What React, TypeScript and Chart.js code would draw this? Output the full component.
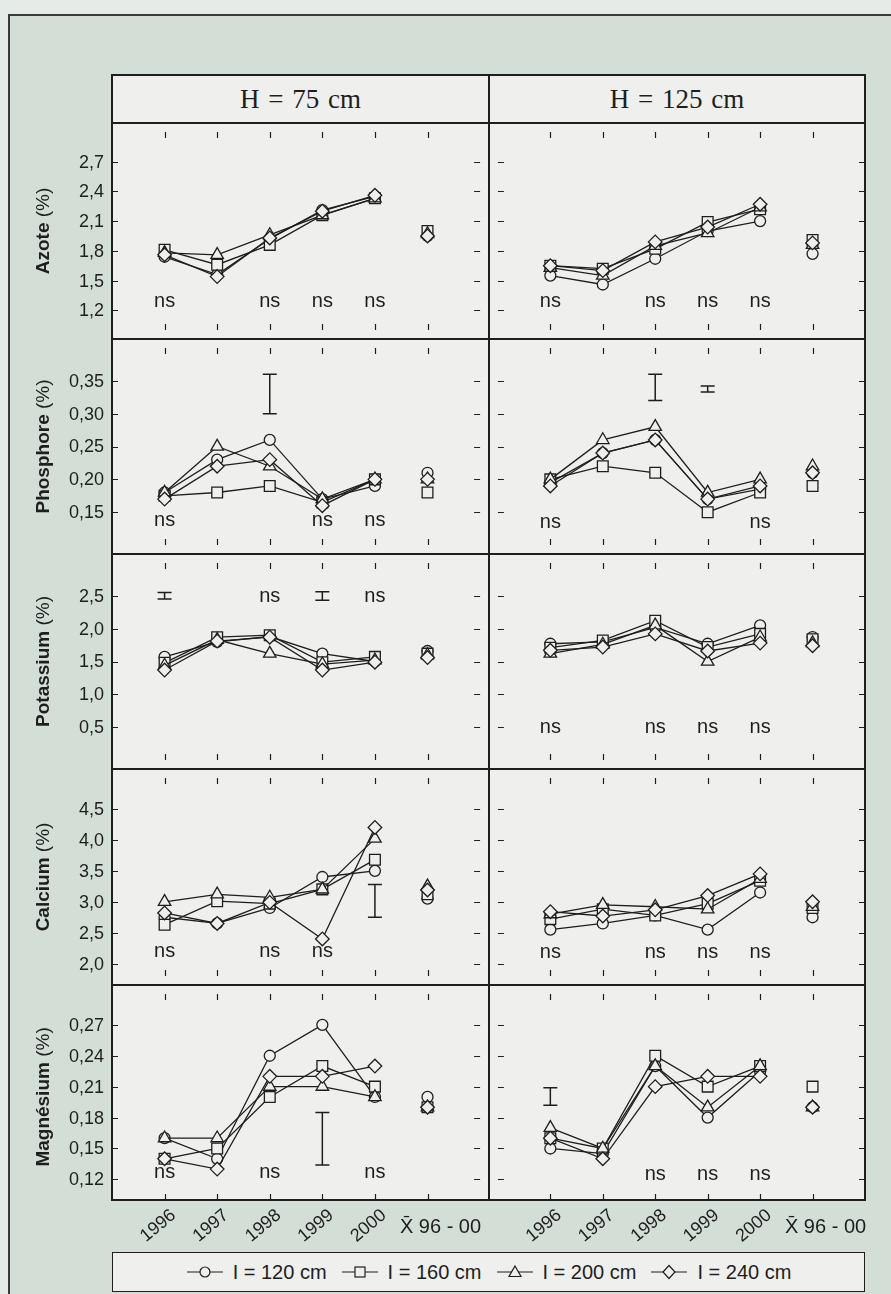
import React, { useEffect, useRef } from 'react';
import { Chart, registerables } from 'chart.js';
Chart.register(...registerables);

// ---------- DATA ----------
const CATEGORIES = ['1996', '1997', '1998', '1999', '2000', 'X\u0304 96 - 00'];
const SERIES_LABELS = ['I = 120 cm', 'I = 160 cm', 'I = 200 cm', 'I = 240 cm'];
const COLUMN_TITLES = ['H = 75 cm', 'H = 125 cm'];
const ROW_NAMES = ['Azote', 'Phosphore', 'Potassium', 'Calcium', 'Magnésium'];

// y ticks
const AZOTE_TICKS = [1.2, 1.5, 1.8, 2.1, 2.4, 2.7];
const PHOSPHORE_TICKS = [0.15, 0.2, 0.25, 0.3, 0.35];
const POTASSIUM_TICKS = [0.5, 1.0, 1.5, 2.0, 2.5];
const CALCIUM_TICKS = [2.0, 2.5, 3.0, 3.5, 4.0, 4.5];
const MAGNESIUM_TICKS = [0.12, 0.15, 0.18, 0.21, 0.24, 0.27];

// values: rows = I 120, 160, 200, 240 ; columns = 1996..2000, mean 96-00
const AZOTE_75 = [
  [1.74, 1.56, 1.92, 2.21, 2.35, 1.95],
  [1.81, 1.66, 1.86, 2.16, 2.33, 2.0],
  [1.78, 1.76, 1.96, 2.16, 2.33, 1.97],
  [1.76, 1.54, 1.93, 2.2, 2.36, 1.95],
];
const AZOTE_125 = [
  [1.55, 1.46, 1.72, 2.0, 2.1, 1.77],
  [1.65, 1.62, 1.82, 2.09, 2.22, 1.91],
  [1.63, 1.55, 1.85, 1.98, 2.24, 1.86],
  [1.65, 1.6, 1.89, 2.04, 2.27, 1.88],
];
const PHOSPHORE_75 = [
  [0.18, 0.23, 0.26, 0.17, 0.19, 0.21],
  [0.175, 0.18, 0.19, 0.165, 0.2, 0.18],
  [0.18, 0.25, 0.22, 0.17, 0.2, 0.2],
  [0.17, 0.22, 0.23, 0.16, 0.2, 0.2],
];
const PHOSPHORE_125 = [
  [0.195, 0.24, 0.26, 0.17, 0.185, 0.21],
  [0.2, 0.22, 0.21, 0.15, 0.18, 0.19],
  [0.2, 0.26, 0.28, 0.18, 0.2, 0.22],
  [0.19, 0.24, 0.26, 0.17, 0.19, 0.21],
];
const POTASSIUM_75 = [
  [1.57, 1.8, 1.88, 1.62, 1.5, 1.66],
  [1.48, 1.87, 1.9, 1.49, 1.57, 1.62],
  [1.44, 1.83, 1.62, 1.46, 1.52, 1.6],
  [1.37, 1.81, 1.87, 1.37, 1.49, 1.56],
];
const POTASSIUM_125 = [
  [1.77, 1.8, 2.02, 1.77, 2.05, 1.87],
  [1.71, 1.82, 2.12, 1.72, 1.92, 1.84],
  [1.62, 1.76, 2.05, 1.5, 1.87, 1.78],
  [1.67, 1.72, 1.92, 1.66, 1.78, 1.74],
];
const CALCIUM_75 = [
  [2.75, 2.65, 2.9, 3.4, 3.5, 3.05],
  [2.63, 3.01, 2.97, 3.2, 3.68, 3.12],
  [3.0, 3.12, 3.07, 3.2, 4.02, 3.25],
  [2.82, 2.65, 2.99, 2.4, 4.2, 3.19],
];
const CALCIUM_125 = [
  [2.55, 2.65, 2.78, 2.55, 3.15, 2.75],
  [2.72, 2.88, 2.78, 2.97, 3.34, 2.9],
  [2.8, 2.95, 2.92, 2.88, 3.37, 2.92],
  [2.84, 2.77, 2.87, 3.1, 3.45, 3.0],
];
const MAGNESIUM_75 = [
  [0.16, 0.14, 0.24, 0.27, 0.2, 0.2],
  [0.14, 0.15, 0.2, 0.23, 0.21, 0.19],
  [0.16, 0.16, 0.21, 0.21, 0.2, 0.19],
  [0.14, 0.13, 0.22, 0.22, 0.23, 0.19],
];
const MAGNESIUM_125 = [
  [0.15, 0.145, 0.23, 0.18, 0.225, 0.19],
  [0.16, 0.15, 0.24, 0.21, 0.23, 0.21],
  [0.17, 0.15, 0.23, 0.19, 0.23, 0.19],
  [0.16, 0.14, 0.21, 0.22, 0.22, 0.19],
];

// "ns" marks: category indexes and level
const AZOTE_NS = [[0, 2, 3, 4], [0, 2, 3, 4]];
const AZOTE_NS_Y = [1.28, 1.28];
const PHOSPHORE_NS = [[0, 3, 4], [0, 4]];
const PHOSPHORE_NS_Y = [0.136, 0.133];
const POTASSIUM_NS = [[2, 4], [0, 2, 3, 4]];
const POTASSIUM_NS_Y = [2.48, 0.49];
const CALCIUM_NS = [[0, 2, 3], [0, 2, 3, 4]];
const CALCIUM_NS_Y = [2.19, 2.17];
const MAGNESIUM_NS = [[0, 2, 4], [2, 3, 4]];
const MAGNESIUM_NS_Y = [0.126, 0.124];

// least significant difference bars: [category, low, high]
const AZOTE_LSD = [[], []];
const PHOSPHORE_LSD = [[[2, 0.3, 0.36]], [[2, 0.32, 0.36], [3, 0.333, 0.342]]];
const POTASSIUM_LSD = [[[0, 2.45, 2.55], [3, 2.43, 2.56]], []];
const CALCIUM_LSD = [[[4, 2.75, 3.28]], []];
const MAGNESIUM_LSD = [[[3, 0.134, 0.185]], [[0, 0.192, 0.209]]];

const Y_RANGES = [[1.0, 3.0], [0.1, 0.4], [0.0, 3.0], [1.8, 5.0], [0.1, 0.3]];
const Y_DECIMALS = [1, 2, 1, 1, 2];

const ROWS = [
  { ticks: AZOTE_TICKS, data: [AZOTE_75, AZOTE_125], ns: AZOTE_NS, nsY: AZOTE_NS_Y, lsd: AZOTE_LSD },
  { ticks: PHOSPHORE_TICKS, data: [PHOSPHORE_75, PHOSPHORE_125], ns: PHOSPHORE_NS, nsY: PHOSPHORE_NS_Y, lsd: PHOSPHORE_LSD },
  { ticks: POTASSIUM_TICKS, data: [POTASSIUM_75, POTASSIUM_125], ns: POTASSIUM_NS, nsY: POTASSIUM_NS_Y, lsd: POTASSIUM_LSD },
  { ticks: CALCIUM_TICKS, data: [CALCIUM_75, CALCIUM_125], ns: CALCIUM_NS, nsY: CALCIUM_NS_Y, lsd: CALCIUM_LSD },
  { ticks: MAGNESIUM_TICKS, data: [MAGNESIUM_75, MAGNESIUM_125], ns: MAGNESIUM_NS, nsY: MAGNESIUM_NS_Y, lsd: MAGNESIUM_LSD },
];

// ---------- STYLE / LAYOUT ----------
const INK = '#1e1e1e';
const PANEL_BG = '#efefed';
const SAGE = '#d3dfd6';
const OUTER = '#e5ebe7';
const FRAME_L = 112;
const FRAME_R = 865;
const SPLIT_X = 489;
const HEAD_T = 75;
const ROW_EDGES = [123, 339, 554, 769, 985, 1200];
const SANS = '"Liberation Sans", Arial, sans-serif';
const POINT_STYLES = ['circle', 'rect', 'triangle', 'rectRot'];
const POINT_RADII = [5.5, 7.6, 7.2, 6.8];

function fmt(v: number, d: number) {
  return v.toFixed(d).replace('.', ',');
}

function makeDecor(row: number, col: number) {
  const def = ROWS[row];
  return {
    id: 'panelDecor' + row + '_' + col,
    beforeDatasetsDraw(chart: any) {
      const ctx = chart.ctx;
      const { left, right, top, bottom } = chart.chartArea;
      const xs = chart.scales.x;
      const ys = chart.scales.y;
      ctx.save();
      ctx.strokeStyle = INK;
      ctx.lineWidth = 1.2;
      ctx.beginPath();
      for (let i = 0; i < CATEGORIES.length; i++) {
        const px = Math.round(xs.getPixelForValue(i)) + 0.5;
        ctx.moveTo(px, top);
        ctx.lineTo(px, top + 6);
        ctx.moveTo(px, bottom);
        ctx.lineTo(px, bottom - 6);
      }
      for (const t of def.ticks) {
        const py = Math.round(ys.getPixelForValue(t)) + 0.5;
        ctx.moveTo(left, py);
        ctx.lineTo(left + 6, py);
        ctx.moveTo(right, py);
        ctx.lineTo(right - 6, py);
      }
      ctx.stroke();
      ctx.restore();
    },
    afterDraw(chart: any) {
      const ctx = chart.ctx;
      const { left, top, bottom } = chart.chartArea;
      const xs = chart.scales.x;
      const ys = chart.scales.y;
      ctx.save();
      ctx.fillStyle = INK;
      ctx.strokeStyle = INK;
      // ns labels
      ctx.font = '20px ' + SANS;
      ctx.textAlign = 'center';
      ctx.textBaseline = 'alphabetic';
      for (const c of def.ns[col]) {
        ctx.fillText('ns', xs.getPixelForValue(c), ys.getPixelForValue(def.nsY[col]) + 5);
      }
      // LSD bars
      ctx.lineWidth = 1.5;
      for (const [c, lo, hi] of def.lsd[col]) {
        const px = xs.getPixelForValue(c);
        const y1 = ys.getPixelForValue(lo);
        const y2 = ys.getPixelForValue(hi);
        ctx.beginPath();
        ctx.moveTo(px, y1);
        ctx.lineTo(px, y2);
        ctx.moveTo(px - 7, y1);
        ctx.lineTo(px + 7, y1);
        ctx.moveTo(px - 7, y2);
        ctx.lineTo(px + 7, y2);
        ctx.stroke();
      }
      // y tick labels + axis title (left column)
      if (col === 0) {
        ctx.font = '18px ' + SANS;
        ctx.textAlign = 'right';
        ctx.textBaseline = 'middle';
        for (const t of def.ticks) {
          ctx.fillText(fmt(t, Y_DECIMALS[row]), left - 8, ys.getPixelForValue(t) + 1);
        }
        const name = ROW_NAMES[row];
        const boldF = 'bold 19px ' + SANS;
        const regF = '19px ' + SANS;
        ctx.font = boldF;
        const w1 = ctx.measureText(name).width;
        ctx.font = regF;
        const w2 = ctx.measureText(' (%)').width;
        ctx.save();
        ctx.translate(44, (top + bottom) / 2);
        ctx.rotate(-Math.PI / 2);
        ctx.textAlign = 'left';
        ctx.textBaseline = 'middle';
        const x0 = -(w1 + w2) / 2;
        ctx.font = boldF;
        ctx.fillText(name, x0, 0);
        ctx.font = regF;
        ctx.fillText(' (%)', x0 + w1, 0);
        ctx.restore();
      }
      // x labels (bottom row)
      if (row === ROWS.length - 1) {
        for (let i = 0; i < CATEGORIES.length; i++) {
          const px = xs.getPixelForValue(i);
          if (i < 5) {
            ctx.save();
            ctx.font = '18px ' + SANS;
            ctx.translate(px + 9, bottom + 13);
            ctx.rotate((-40 * Math.PI) / 180);
            ctx.textAlign = 'right';
            ctx.textBaseline = 'middle';
            ctx.fillText(CATEGORIES[i], 0, 0);
            ctx.restore();
          } else {
            ctx.textAlign = 'center';
            ctx.textBaseline = 'alphabetic';
            ctx.font = '20px ' + SANS;
            ctx.fillText(CATEGORIES[i], px + 13, bottom + 33);
          }
        }
      }
      ctx.restore();
    },
  };
}

function Panel({ row, col }: { row: number; col: number }) {
  const ref = useRef<HTMLCanvasElement | null>(null);
  const top = ROW_EDGES[row];
  const plotH = ROW_EDGES[row + 1] - ROW_EDGES[row];
  const padB = row === ROWS.length - 1 ? 60 : 0;
  const canvasLeft = col === 0 ? 0 : SPLIT_X;
  const canvasW = col === 0 ? SPLIT_X : 891 - SPLIT_X;
  const padL = col === 0 ? FRAME_L : 0;
  const padR = col === 0 ? 0 : 891 - FRAME_R;
  const canvasH = plotH + padB;

  useEffect(() => {
    const def = ROWS[row];
    const datasets = SERIES_LABELS.map((label, s) => ({
      label,
      data: def.data[col][s].map((v: number, i: number) => ({ x: i, y: v })),
      borderColor: INK,
      borderWidth: 1.3,
      pointStyle: POINT_STYLES[s],
      pointRadius: POINT_RADII[s],
      pointBorderWidth: 1.3,
      pointBorderColor: INK,
      pointBackgroundColor: PANEL_BG,
      order: 3 - s,
      clip: false,
      segment: {
        borderColor: (c: any) => (c.p1DataIndex === 5 ? 'rgba(0,0,0,0)' : INK),
      },
    }));
    const chart = new Chart(ref.current as HTMLCanvasElement, {
      type: 'line',
      data: { datasets } as any,
      options: {
        animation: false,
        responsive: false,
        maintainAspectRatio: false,
        devicePixelRatio: 1,
        events: [],
        layout: { padding: { left: padL, right: padR, top: 0, bottom: padB } },
        plugins: { legend: { display: false }, tooltip: { enabled: false } },
        scales: {
          x: { type: 'linear', min: -1, max: 6, display: false },
          y: { type: 'linear', min: Y_RANGES[row][0], max: Y_RANGES[row][1], display: false },
        },
      } as any,
      plugins: [makeDecor(row, col)],
    });
    return () => chart.destroy();
  }, []);

  return (
    <canvas
      ref={ref}
      width={canvasW}
      height={canvasH}
      style={{ position: 'absolute', left: canvasLeft, top, width: canvasW, height: canvasH }}
    />
  );
}

function HLine({ x1, x2, y, w = 1.6 }: any) {
  return <div style={{ position: 'absolute', left: x1, top: y - w / 2, width: x2 - x1, height: w, background: INK, zIndex: 5 }} />;
}
function VLine({ y1, y2, x, w = 1.6 }: any) {
  return <div style={{ position: 'absolute', left: x - w / 2, top: y1, width: w, height: y2 - y1, background: INK, zIndex: 5 }} />;
}

function LegendSymbol({ s }: { s: number }) {
  const cx = 19, cy = 9;
  let mark: any = null;
  if (s === 0) mark = <circle cx={cx} cy={cy} r={5} fill={PANEL_BG} stroke={INK} strokeWidth={1.2} />;
  if (s === 1) mark = <rect x={cx - 5} y={cy - 5} width={10} height={10} fill={PANEL_BG} stroke={INK} strokeWidth={1.2} />;
  if (s === 2) mark = <polygon points={`${cx},${cy - 6} ${cx + 6},${cy + 4.5} ${cx - 6},${cy + 4.5}`} fill={PANEL_BG} stroke={INK} strokeWidth={1.2} />;
  if (s === 3) mark = <polygon points={`${cx},${cy - 6.5} ${cx + 6},${cy} ${cx},${cy + 6.5} ${cx - 6},${cy}`} fill={PANEL_BG} stroke={INK} strokeWidth={1.2} />;
  return (
    <svg width={38} height={18} style={{ display: 'block' }}>
      <line x1={1} y1={cy} x2={37} y2={cy} stroke={INK} strokeWidth={1.2} />
      {mark}
    </svg>
  );
}

export default function App() {
  const panels: any[] = [];
  for (let r = 0; r < ROWS.length; r++) {
    for (let c = 0; c < 2; c++) panels.push(<Panel key={r + '_' + c} row={r} col={c} />);
  }
  return (
    <div style={{ position: 'absolute', left: 0, top: 0, width: 891, height: 1294, overflow: 'hidden', background: OUTER, fontFamily: SANS }}>
      <div style={{ position: 'absolute', left: 8, top: 14, width: 900, height: 1300, background: SAGE, borderLeft: '2px solid #3a3a3a', borderTop: '2px solid #3a3a3a' }} />
      <div style={{ position: 'absolute', left: FRAME_L, top: HEAD_T, width: FRAME_R - FRAME_L, height: ROW_EDGES[5] - HEAD_T, background: PANEL_BG }} />
      {COLUMN_TITLES.map((t, i) => (
        <div
          key={t}
          style={{
            position: 'absolute',
            left: i === 0 ? FRAME_L : SPLIT_X,
            width: i === 0 ? SPLIT_X - FRAME_L : FRAME_R - SPLIT_X,
            top: HEAD_T,
            height: ROW_EDGES[0] - HEAD_T,
            display: 'flex',
            alignItems: 'center',
            justifyContent: 'center',
            fontFamily: '"Liberation Serif", "Times New Roman", serif',
            fontSize: 27,
            color: INK,
            wordSpacing: 2,
          }}
        >
          {t}
        </div>
      ))}
      {panels}
      {[HEAD_T, ...ROW_EDGES].map((y) => (
        <HLine key={'h' + y} x1={FRAME_L - 0.8} x2={FRAME_R + 0.8} y={y} />
      ))}
      {[FRAME_L, SPLIT_X, FRAME_R].map((x) => (
        <VLine key={'v' + x} x={x} y1={HEAD_T} y2={ROW_EDGES[5]} />
      ))}
      <div
        style={{
          position: 'absolute',
          left: FRAME_L,
          top: 1252,
          width: FRAME_R - FRAME_L,
          height: 40,
          boxSizing: 'border-box',
          border: '1.6px solid ' + INK,
          background: PANEL_BG,
          display: 'flex',
          alignItems: 'center',
          justifyContent: 'center',
          fontSize: 20,
          color: INK,
        }}
      >
        {SERIES_LABELS.map((l, s) => (
          <div key={l} style={{ display: 'flex', alignItems: 'center', marginRight: s < 3 ? 14 : 0 }}>
            <LegendSymbol s={s} />
            <span style={{ marginLeft: 9, whiteSpace: 'nowrap' }}>{l}</span>
          </div>
        ))}
      </div>
    </div>
  );
}
